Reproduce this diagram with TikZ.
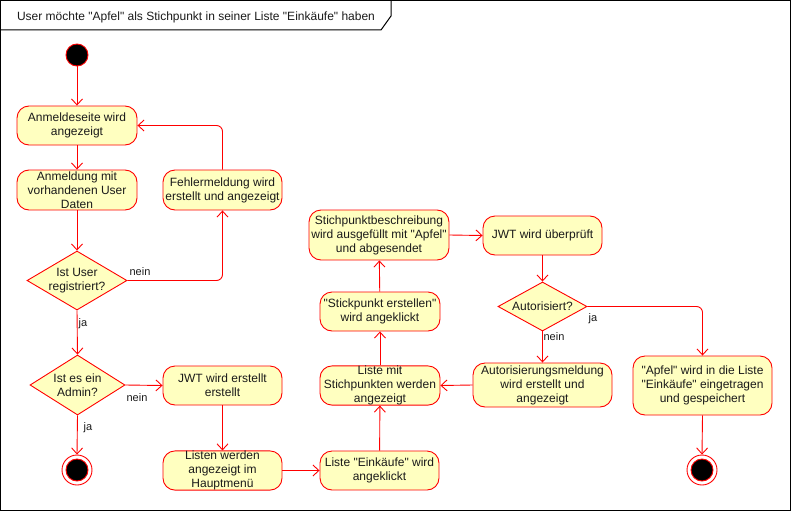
\documentclass[tikz,border=0pt]{standalone}
\usepackage{fontspec}
\setmainfont{Liberation Sans}[Ligatures=TeXOff]
\usetikzlibrary{shapes.geometric,arrows.meta}
\definecolor{fillY}{HTML}{FFFFC0}
\definecolor{lineR}{HTML}{FF0000}
\definecolor{txt}{HTML}{1A1A1A}
\begin{document}
\begin{tikzpicture}[x=1pt,y=-1pt,
  every node/.style={text=txt, font=\fontsize{12}{14}\selectfont},
  act/.style={draw=lineR, fill=fillY, line width=0.9pt, rounded corners=12pt, align=center, inner sep=0pt},
  dia/.style={draw=lineR, fill=fillY, line width=0.9pt, diamond, inner sep=0pt},
  lbl/.style={font=\fontsize{11}{13}\selectfont, inner sep=0pt},
  flow/.style={draw=lineR, line width=0.9pt, rounded corners=6pt, -{Straight Barb[length=6pt,width=11pt]}},
  startdot/.style={circle, fill=black, draw=lineR, line width=0.9pt, minimum size=22pt, inner sep=0pt},
  endring/.style={circle, fill=white, draw=lineR, line width=0.9pt, minimum size=30pt, inner sep=0pt}
]
\useasboundingbox (0,0) rectangle (791,511);
% frame
\draw[black, line width=1pt] (0.5,0.5) rectangle (790.5,510.5);
\draw[black, line width=1pt] (0.5,30) -- (381,30) -- (391,16) -- (391,0.5);
\node (title) at (196,17) {User möchte "Apfel" als Stichpunkt in seiner Liste "Einkäufe" haben};

% nodes
\node[startdot] (start) at (77,55) {};
\node[act, minimum width=120pt, minimum height=39pt] (anm) at (77,125.5) {Anmeldeseite wird\\angezeigt};
\node[act, minimum width=120pt, minimum height=40pt] (anmd) at (77,190) {Anmeldung mit\\vorhandenen User\\Daten};
\node[act, minimum width=119pt, minimum height=40pt] (fehl) at (222.5,190) {Fehlermeldung wird\\erstellt und angezeigt};
\node[dia, minimum width=100pt, minimum height=59pt] (d1) at (77,280.5) {};
\node[align=center] (d1t) at (d1) {Ist User\\registriert?};
\node[dia, minimum width=95pt, minimum height=60pt] (d2) at (77.5,385) {};
\node[align=center] (d2t) at (d2) {Ist es ein\\Admin?};
\node[endring] (end1) at (77,470) {};
\node[startdot] (end1i) at (end1) {};
\node[act, minimum width=119pt, minimum height=39pt] (jwt) at (222.5,385.5) {JWT wird erstellt\\erstellt};
\node[act, minimum width=119pt, minimum height=39pt] (listen) at (222.5,470.5) {Listen werden\\angezeigt im\\Hauptmenü};
\node[act, minimum width=119pt, minimum height=39pt] (eink) at (379.5,470.5) {Liste "Einkäufe" wird\\angeklickt};
\node[act, minimum width=120pt, minimum height=39pt] (lmit) at (380,385.5) {Liste mit\\Stichpunkten werden\\angezeigt};
\node[act, minimum width=120pt, minimum height=39pt] (stick) at (380,311.5) {"Stickpunkt erstellen"\\wird angeklickt};
\node[act, minimum width=140pt, minimum height=50pt] (beschr) at (379,235) {Stichpunktbeschreibung\\wird ausgefüllt mit "Apfel"\\und abgesendet};
\node[act, minimum width=119pt, minimum height=39pt] (jwtu) at (542.5,235.5) {JWT wird überprüft};
\node[dia, minimum width=89pt, minimum height=49pt] (d3) at (542.5,306.5) {};
\node (d3t) at (d3) {Autorisiert?};
\node[act, minimum width=139pt, minimum height=44pt] (autm) at (542.5,385) {Autorisierungsmeldung\\wird erstellt und\\angezeigt};
\node[act, minimum width=139pt, minimum height=59pt] (apfel) at (702.5,385.5) {"Apfel" wird in die Liste\\"Einkäufe" eingetragen\\und gespeichert};
\node[endring] (end2) at (702,470) {};
\node[startdot] (end2i) at (end2) {};

% connectors
\draw[flow] (start) -- (anm);
\draw[flow] (anm) -- (anmd);
\draw[flow] (anmd) -- (d1);
\draw[flow] (d1.east) -| (fehl.south);
\draw[flow] (fehl.north) |- (anm.east);
\draw[flow] (d1.south) -- (d2.north);
\draw[flow] (d2.east) -- (jwt.west);
\draw[flow] (d2.south) -- (end1.north);
\draw[flow] (jwt) -- (listen);
\draw[flow] (listen) -- (eink);
\draw[flow] (eink) -- (lmit);
\draw[flow] (lmit) -- (stick);
\draw[flow] (stick) -- (beschr);
\draw[flow] (beschr.east) -- (jwtu.west);
\draw[flow] (jwtu) -- (d3.north);
\draw[flow] (d3.east) -| (apfel.north);
\draw[flow] (d3.south) -- (autm.north);
\draw[flow] (autm.west) -- (lmit.east);
\draw[flow] (apfel.south) -- (end2.north);

% labels
\node[lbl] (l1) at (140,272) {nein};
\node[lbl] (l2) at (83,324) {ja};
\node[lbl] (l3) at (137,398) {nein};
\node[lbl] (l4) at (88,428) {ja};
\node[lbl] (l5) at (593,319) {ja};
\node[lbl] (l6) at (554,337) {nein};
\end{tikzpicture}
\end{document}
